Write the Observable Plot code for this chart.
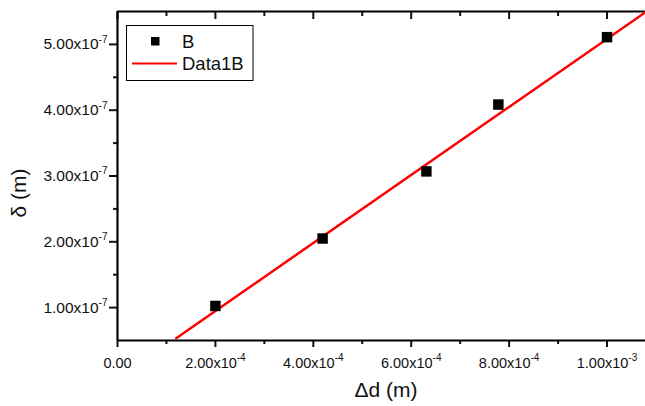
<!DOCTYPE html>
<html>
<head>
<meta charset="utf-8">
<script src="https://cdn.jsdelivr.net/npm/d3@7"></script>
<script src="https://cdn.jsdelivr.net/npm/@observablehq/plot@0.6"></script>
<style>
  html, body { margin: 0; padding: 0; background: white; }
  #chart { width: 645px; height: 406px; }
</style>
</head>
<body>
<div id="chart"></div>
<script>
// ---- data ----
const deltaD = [2.00e-4, 4.19e-4, 6.31e-4, 7.78e-4, 1.00e-3];      // Δd (m)
const delta  = [1.025e-7, 2.05e-7, 3.07e-7, 4.086e-7, 5.11e-7];    // δ (m)
const fitDeltaD = [1.2e-4, 1.0786e-3];                               // Data1B linear fit ends
const fitDelta  = [0.535e-7, 5.49e-7];
const xMajorTicks = [0, 2e-4, 4e-4, 6e-4, 8e-4, 1e-3];
const xMinorTicks = [1e-4, 3e-4, 5e-4, 7e-4, 9e-4];
const yMajorTicks = [1e-7, 2e-7, 3e-7, 4e-7, 5e-7];
const yMinorTicks = [1.5e-7, 2.5e-7, 3.5e-7, 4.5e-7];
const xDomain = [0, 1.0786e-3];
const yDomain = [0.5e-7, 5.5e-7];
const seriesNames = ["B", "Data1B"];
const xTitle = "Δd (m)";
const yTitle = "δ (m)";

const points = deltaD.map((x, i) => ({x, y: delta[i]}));
const fit = fitDeltaD.map((x, i) => ({x, y: fitDelta[i]}));

function fmtX(d) {
  if (d === 0) return "0.00#";
  const e = Math.floor(Math.log10(Math.abs(d)) + 1e-9);
  return (d / Math.pow(10, e)).toFixed(2) + "x10|" + e + "#";
}
function fmtY(d) {
  const e = Math.floor(Math.log10(Math.abs(d)) + 1e-9);
  return (d / Math.pow(10, e)).toFixed(2) + "x10|" + e + "@";
}
const blank = () => "";

const font = "'Liberation Sans', Arial, Helvetica, sans-serif";
const ink = "#111";

const plot = Plot.plot({
  width: 645,
  height: 406,
  marginLeft: 117,
  marginRight: 0,
  marginTop: 11,
  marginBottom: 66,
  style: {fontFamily: font, background: "white", color: ink, overflow: "visible"},
  x: {domain: xDomain, axis: null},
  y: {domain: yDomain, axis: null},
  marks: [
    // bottom axis
    Plot.axisX({anchor: "bottom", ticks: xMajorTicks, tickSize: 7, tickPadding: 10, tickFormat: fmtX, strokeWidth: 2, fill: ink, label: null}),
    Plot.axisX({anchor: "bottom", ticks: xMinorTicks, tickSize: 4, tickFormat: blank, strokeWidth: 2, label: null}),
    // top axis (ticks inward)
    Plot.axisX({anchor: "top", ticks: xMajorTicks, tickSize: -7, tickFormat: blank, strokeWidth: 2, label: null}),
    Plot.axisX({anchor: "top", ticks: xMinorTicks, tickSize: -4, tickFormat: blank, strokeWidth: 2, label: null}),
    // left axis
    Plot.axisY({anchor: "left", ticks: yMajorTicks, tickSize: 8, tickPadding: 2, tickFormat: fmtY, strokeWidth: 2, fill: ink, label: null}),
    Plot.axisY({anchor: "left", ticks: yMinorTicks, tickSize: 4, tickFormat: blank, strokeWidth: 2, label: null}),
    // axis lines
    Plot.ruleX([xDomain[0]], {stroke: "black", strokeWidth: 2.2}),
    Plot.ruleY([yDomain[0]], {stroke: "black", strokeWidth: 2.2}),
    Plot.ruleY([yDomain[1]], {stroke: "black", strokeWidth: 2.2}),
    // fit line
    Plot.line(fit, {x: "x", y: "y", stroke: "#ff0000", strokeWidth: 2.5, clip: true}),
    // data points
    Plot.dot(points, {x: "x", y: "y", symbol: "square", r: 5.9, fill: "black", stroke: "none"})
  ]
});

document.getElementById("chart").appendChild(plot);
const svg = d3.select(plot);

// tick label sizes and superscript exponents
svg.selectAll("text").each(function() {
  let t = this.textContent;
  const isX = t.endsWith("#"), isY = t.endsWith("@");
  if (!isX && !isY) return;
  t = t.slice(0, -1);
  const sel = d3.select(this);
  sel.style("font-size", isX ? "14.5px" : "15.5px");
  const [base, exp] = t.split("|");
  sel.text(base);
  if (exp !== undefined) {
    sel.append("tspan").style("font-size", "10px").attr("dy", "-0.65em").text(exp);
  }
});

// axis titles
svg.append("text")
  .attr("x", 386).attr("y", 397)
  .attr("text-anchor", "middle")
  .style("font-size", "21px").attr("font-family", font).attr("fill", ink)
  .text(xTitle);
svg.append("text")
  .attr("transform", "translate(26,193) rotate(-90)")
  .attr("text-anchor", "middle")
  .style("font-size", "21px").attr("font-family", font).attr("fill", ink)
  .text(yTitle);

// legend
const lg = svg.append("g").attr("font-family", font).style("font-size", "18.5px").attr("fill", ink).attr("text-anchor", "start");
lg.append("rect").attr("x", 126.5).attr("y", 25.5).attr("width", 126.5).attr("height", 55)
  .attr("fill", "white").attr("stroke", "black").attr("stroke-width", 1);
lg.append("rect").attr("x", 151).attr("y", 37).attr("width", 8.5).attr("height", 8.5).attr("fill", "black");
lg.append("text").attr("x", 182).attr("y", 47.5).attr("text-anchor", "start").text(seriesNames[0]);
lg.append("line").attr("x1", 132).attr("x2", 177).attr("y1", 63.5).attr("y2", 63.5)
  .attr("stroke", "#ff0000").attr("stroke-width", 2.2);
lg.append("text").attr("x", 182).attr("y", 70).attr("text-anchor", "start").text(seriesNames[1]);
</script>
</body>
</html>
